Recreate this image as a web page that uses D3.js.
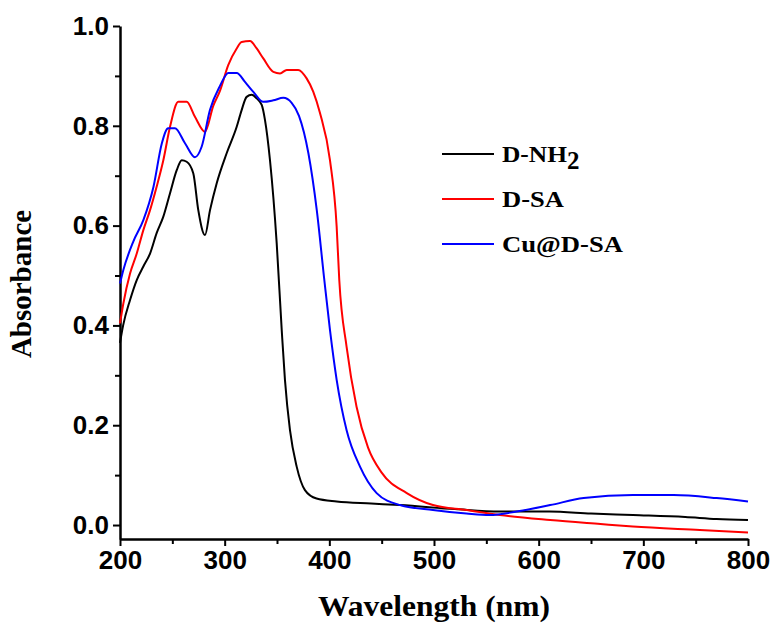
<!DOCTYPE html>
<html>
<head>
<meta charset="utf-8">
<script src="https://cdn.jsdelivr.net/npm/d3@7"></script>
<style>
  body { margin: 0; background: #fff; }
  .tick text { font-family: "Liberation Sans", Arial, sans-serif; font-weight: bold; font-size: 26px; fill: #000; }
  .lbl { font-family: "Liberation Serif", "Times New Roman", serif; font-weight: bold; fill: #000; }
</style>
</head>
<body>
<div id="chart"></div>
<script>
// [wavelength (nm), absorbance]
let dNH2 = [[200,0.365],[203,0.40],[209.6,0.451],[216,0.491],[222.3,0.518],[228.7,0.544],[235,0.585],
  [241.4,0.618],[247.8,0.665],[254.2,0.711],[259,0.731],[263.7,0.728],[270,0.705],[274.8,0.631],[281.2,0.581],
  [286,0.631],[292.4,0.685],[301.9,0.745],[311.5,0.798],[316,0.83],[321,0.858],[325.8,0.862],[330.6,0.855],
  [335.4,0.842],[338.5,0.812],[343.3,0.731],[349.7,0.565],[354.5,0.391],[357.6,0.291],[362.4,0.19],
  [368.8,0.117],[376.7,0.07],[387.8,0.053],[407,0.047],[440,0.043],[467.5,0.04],[520,0.032],[563,0.027],
  [610,0.027],[650,0.023],[690,0.02],[740,0.016],[770,0.012],[800,0.01]];

let dSA = [[200,0.404],[203.2,0.444],[209.6,0.504],[216,0.544],[222.3,0.591],[228.7,0.631],[235,0.678],
  [241.4,0.731],[247.8,0.798],[255.7,0.848],[263.7,0.848],[271.6,0.818],[281.2,0.788],[289.1,0.84],
  [295.5,0.87],[303.5,0.922],[311.5,0.955],[316.2,0.968],[324.2,0.97],[330.6,0.955],[336.9,0.935],
  [346.5,0.908],[352.9,0.905],[359.3,0.912],[370.3,0.912],[378.3,0.895],[384.7,0.868],[391,0.826],
  [400.6,0.731],[407,0.598],[409.5,0.491],[416.5,0.357],[426,0.237],[437,0.155],[450,0.105],[474,0.064],
  [499,0.04],[531,0.03],[563,0.02],[611,0.01],[659,0.002],[690,-0.003],[754,-0.01],[800,-0.015]];

let cuDSA = [[200,0.484],[203.2,0.511],[212.7,0.568],[222.3,0.611],[232,0.678],[240,0.765],[246,0.795],
  [252.5,0.795],[262.1,0.765],[271.6,0.737],[278,0.758],[286,0.832],[295.5,0.88],[303.5,0.906],[311.5,0.906],
  [319.4,0.888],[327.4,0.868],[336.9,0.848],[346.5,0.851],[356,0.856],[364,0.846],[371,0.82],[380,0.745],
  [388,0.631],[395,0.495],[400.6,0.391],[407,0.291],[416.5,0.19],[429.3,0.117],[445.2,0.064],[467.5,0.04],
  [499,0.03],[531,0.023],[553,0.02],[579,0.027],[611,0.04],[643,0.054],[690,0.06],[729,0.06],[770,0.054],
  [800,0.047]];

let seriesNames = ["D-NH2", "D-SA", "Cu@D-SA"];
let seriesColors = ["#000000", "#ff0000", "#0000ff"];
let xTicks = [200, 300, 400, 500, 600, 700, 800];
let yTicks = [0.0, 0.2, 0.4, 0.6, 0.8, 1.0];

let margin = {top: 26, right: 26, bottom: 93, left: 120},
    width = 774 - margin.left - margin.right,
    height = 632 - margin.top - margin.bottom;

let x = d3.scaleLinear().domain([200, 800]).range([0, 628]);
let y = d3.scaleLinear().domain([-0.028, 1.0]).range([height, 0]);

let svg = d3.select("#chart")
    .append("svg")
    .attr("width", 774)
    .attr("height", 632)
    .append("g")
    .attr("transform", "translate(" + margin.left + "," + margin.top + ")");

let xAxis = d3.axisBottom(x).tickValues(xTicks).tickFormat(d3.format("d")).tickSizeInner(7).tickSizeOuter(0).tickPadding(5);
let yAxis = d3.axisLeft(y).tickValues(yTicks).tickFormat(d3.format(".1f")).tickSizeInner(7).tickSizeOuter(0).tickPadding(4);

// minor ticks
svg.append("g")
    .attr("transform", "translate(0," + height + ")")
    .call(d3.axisBottom(x).tickValues([250, 350, 450, 550, 650, 750]).tickFormat("").tickSizeInner(5).tickSizeOuter(0))
    .call(g => g.select(".domain").remove())
    .selectAll("line").attr("stroke-width", 2);
svg.append("g")
    .call(d3.axisLeft(y).tickValues([0.1, 0.3, 0.5, 0.7, 0.9]).tickFormat("").tickSizeInner(5).tickSizeOuter(0))
    .call(g => g.select(".domain").remove())
    .selectAll("line").attr("stroke-width", 2);

let gx = svg.append("g")
    .attr("transform", "translate(0," + height + ")")
    .call(xAxis);
let gy = svg.append("g").call(yAxis);
[gx, gy].forEach(g => {
  g.select(".domain").attr("stroke-width", 2.5);
  g.selectAll(".tick line").attr("stroke-width", 2);
});

let lineGenerator = d3.line()
    .x(d => x(d[0]))
    .y(d => y(d[1]))
    .curve(d3.curveMonotoneX);

[dNH2, dSA, cuDSA].forEach((data, i) => {
  svg.append("path")
      .datum(data)
      .attr("fill", "none")
      .attr("stroke", seriesColors[i])
      .attr("stroke-width", 2)
      .attr("d", lineGenerator);
});

// legend (text is drawn a little wider than the font, as in the original)
let legendWidths = [65, 62, 121];
let legend = svg.append("g").attr("transform", "translate(" + (442 - margin.left) + "," + (154 - margin.top) + ")");
seriesNames.forEach((name, i) => {
  let row = legend.append("g").attr("transform", "translate(0," + i * 45 + ")");
  row.append("line").attr("x1", 0).attr("x2", 52).attr("y1", 0).attr("y2", 0)
      .attr("stroke", seriesColors[i]).attr("stroke-width", 2);
  let t = row.append("text").attr("class", "lbl").attr("font-size", "23px").attr("x", 60).attr("y", 8);
  if (name === "D-NH2") {
    t.append("tspan").attr("textLength", legendWidths[i]).attr("lengthAdjust", "spacingAndGlyphs").text("D-NH");
    t.append("tspan").attr("dy", 7).attr("font-size", "25px").text("2");
  } else {
    t.attr("textLength", legendWidths[i]).attr("lengthAdjust", "spacingAndGlyphs").text(name);
  }
});

// axis labels
svg.append("text")
    .attr("class", "lbl")
    .attr("font-size", "29px")
    .attr("text-anchor", "middle")
    .attr("textLength", 232)
    .attr("lengthAdjust", "spacingAndGlyphs")
    .attr("x", 434 - margin.left)
    .attr("y", 616 - margin.top)
    .text("Wavelength (nm)");

svg.append("text")
    .attr("class", "lbl")
    .attr("font-size", "29px")
    .attr("text-anchor", "middle")
    .attr("transform", "translate(" + (31 - margin.left) + "," + (284 - margin.top) + ") rotate(-90)")
    .text("Absorbance");
</script>
</body>
</html>
